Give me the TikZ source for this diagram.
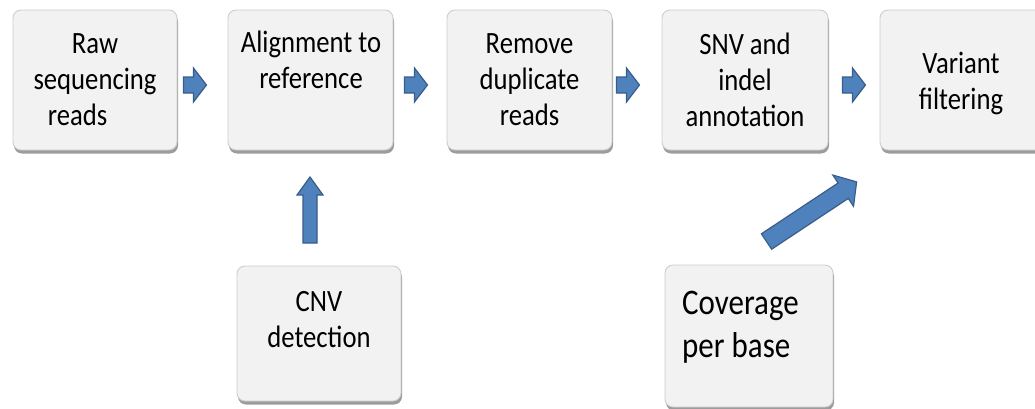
\documentclass[tikz,border=0pt]{standalone}
\usepackage{fontspec}
\setmainfont{Carlito}[FakeStretch=0.86]
\usetikzlibrary{shadows,calc}
\definecolor{boxfill}{HTML}{F2F2F2}
\definecolor{boxline}{HTML}{CDCDCD}
\definecolor{boxshade}{HTML}{9C9C9C}
\definecolor{arrfill}{HTML}{4F81BD}
\definecolor{arrline}{HTML}{385D8A}
\tikzset{
  stepbox/.style={draw=boxline, line width=0.9pt, fill=boxfill, rounded corners=8pt,
    minimum width=164pt, minimum height=140pt, inner sep=0pt,
    drop shadow={shadow xshift=1pt, shadow yshift=-3.5pt, fill=boxshade, opacity=1},
    font=\fontsize{31}{36}\selectfont, align=center},
  steptext/.style={inner sep=0pt, font=\fontsize{31}{36}\selectfont, align=center},
  bigtext/.style={inner sep=0pt, font=\fontsize{36}{43}\selectfont, align=left},
  blockarrow/.style={fill=arrfill, draw=arrline, line width=1.2pt, line join=miter},
  rightarrow/.pic={
    \draw[blockarrow] (0,-8) -- (10,-8) -- (10,-17) -- (23,0) -- (10,17) -- (10,8) -- (0,8) -- cycle;
  }
}
\begin{document}
\begin{tikzpicture}[x=1pt, y=-1pt]
  \useasboundingbox (0,0) rectangle (1035,408);
  \clip (0,0) rectangle (1035,408);

  % pipeline steps along the top
  \node[stepbox] (b1) at (95,80) {Raw\\sequencing\\reads\hspace*{35pt}};
  \node[stepbox, minimum width=165pt] (b2) at (310.5,80) {};
  \node[steptext] (t2) at (311,60) {Alignment to\\reference};
  \node[stepbox, minimum width=165pt] (b3) at (529.5,80) {Remove\\duplicate\\reads};
  \node[stepbox, minimum width=166pt] (b4) at (745,80) {SNV and\\indel\\annotation};
  \node[stepbox] (b5) at (962,80) {};
  \node[steptext] (t5) at (961,83) {Variant\\filtering};

  % side inputs
  \node[stepbox, minimum height=135pt] (cnv) at (319,333.5) {};
  \node[steptext] (t6) at (319,320) {CNV\\detection};
  \node[stepbox, minimum width=168pt, minimum height=142pt] (cov) at (749,336) {};
  \node[bigtext, anchor=west] (t7) at (682,327) {Coverage\\per base};

  % block arrows between consecutive steps
  \pic at ([shift={(6,5)}]b1.east) {rightarrow};
  \pic at ([shift={(11,5)}]b2.east) {rightarrow};
  \pic at ([shift={(4,5)}]b3.east) {rightarrow};
  \pic at ([shift={(14,5)}]b4.east) {rightarrow};

  % CNV detection feeds the alignment step
  \draw[blockarrow] (303,243) -- (303,195) -- (297,195) -- (310,177)
    -- (323,195) -- (317,195) -- (317,243) -- cycle;

  % coverage feeds variant filtering
  \draw[blockarrow] (771.6,249.2) -- (848.3,198.4) -- (853.5,206.3) -- (856.6,181.9)
    -- (832.9,175.1) -- (838.1,183.0) -- (761.4,233.8) -- cycle;
\end{tikzpicture}
\end{document}
